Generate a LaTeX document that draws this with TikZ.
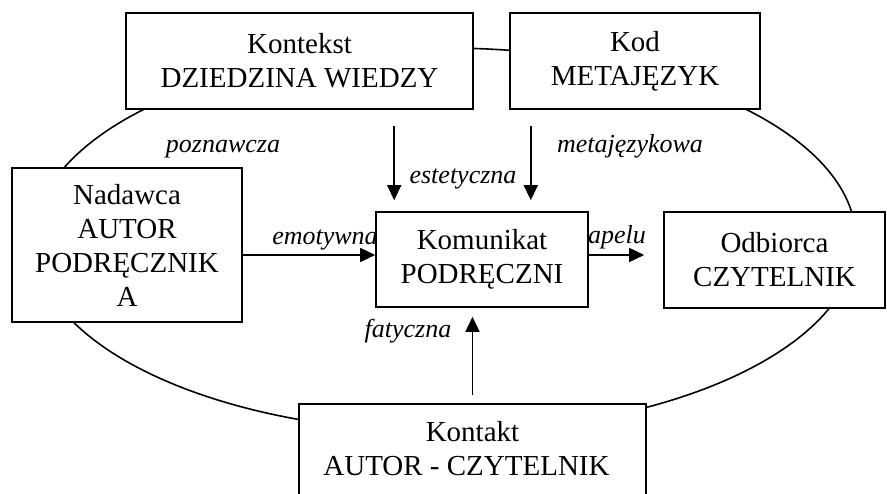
\documentclass[tikz,border=0pt]{standalone}
\usepackage{fontspec}
\setmainfont{Liberation Serif}
\usetikzlibrary{arrows.meta, positioning}

\begin{document}
\begin{tikzpicture}[
    x=1pt, y=-1pt,
    % Define the style for each block
    block/.style={rectangle, draw, fill=white, line width=1.6pt, text centered, align=center, inner sep=0pt,
        font=\fontsize{29}{34}\selectfont},
    function/.style={font=\fontsize{26}{30}\selectfont\itshape, anchor=base, inner sep=0pt},
    connector/.style={line width=1.6pt, -{Triangle[length=15pt, width=14pt]}}
]
\useasboundingbox (0,0) rectangle (887,494);
\clip (0,0) rectangle (887,494);

% Ring behind the blocks
\draw [line width=1.6pt] (445,240) ellipse [x radius=411pt, y radius=192pt];

% Functions
\node [function] (Poznawcza) at (223,153) {poznawcza};
\node [function] (Metajezykowa) at (630,153) {metajęzykowa};
\node [function] (Estetyczna) at (463,184) {estetyczna};
\node [function] (Emotywna) at (325,245) {emotywna};
\node [function] (Apelu) at (617,244) {apelu};
\node [function] (Fatyczna) at (408,338) {fatyczna};

% Place nodes at coordinates
\node [block, minimum width=347pt, minimum height=96pt] (Kontekst) at (299.5,61) {Kontekst\\DZIEDZINA WIEDZY};
\node [block, minimum width=250pt, minimum height=96pt] (Kod) at (635,61) {Kod\\METAJĘZYK};
\node [block, minimum width=230pt, minimum height=154pt] (Nadawca) at (127,245) {Nadawca\\AUTOR\\PODRĘCZNIK\\A};
\node [block, minimum width=212pt, minimum height=95pt] (Komunikat) at (482,259.5) {Komunikat\\PODRĘCZNI};
\node [block, minimum width=221pt, minimum height=96pt] (Odbiorca) at (774.5,260) {Odbiorca\\CZYTELNIK};
\node [block, minimum width=347pt, anchor=north, inner ysep=17.5pt, text depth=70pt] (Kontakt) at (472.5,403) {Kontakt\\AUTOR - CZYTELNIK\hspace*{12pt}};

% Draw connectors
\draw [connector, shorten <=16pt, shorten >=11pt] ([xshift=19pt]Komunikat.north west |- Kontekst.south) -- ([xshift=19pt]Komunikat.north west);
\draw [connector, shorten <=16pt, shorten >=11pt] ([xshift=-58pt]Komunikat.north east |- Kod.south) -- ([xshift=-58pt]Komunikat.north east);
\draw [connector] ([yshift=-10pt]Nadawca.east) -- ([yshift=-10pt]Nadawca.east -| Komunikat.west);
\draw [connector, shorten >=19pt] ([yshift=4.5pt]Komunikat.east) -- ([yshift=4.5pt]Komunikat.east -| Odbiorca.west);
\draw [connector, shorten <=8pt, shorten >=9pt] (Kontakt.north) -- (Kontakt.north |- Komunikat.south);
\end{tikzpicture}
\end{document}
